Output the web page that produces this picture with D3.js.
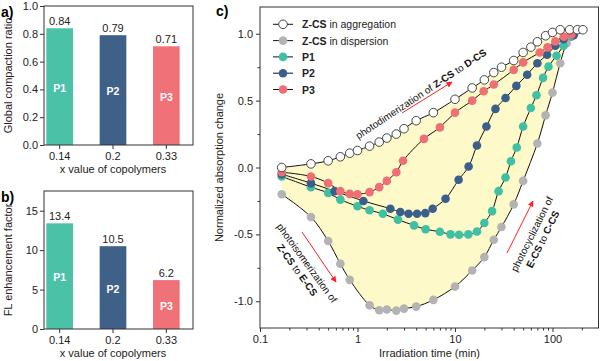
<!DOCTYPE html>
<html>
<head>
<meta charset="utf-8">
<script src="https://cdn.jsdelivr.net/npm/d3@7"></script>
<style>
body{margin:0;background:#fff;}
svg{font-family:"Liberation Sans",Arial,sans-serif;display:block;}
</style>
</head>
<body>
<div id="chart"></div>
<script>
// bar panels (a, b)
const polymers = ["P1","P2","P3"];
const xLabels = ["0.14","0.2","0.33"];
const compactionRatio = [0.84,0.79,0.71];
const flFactor = [13.4,10.5,6.2];
const barColors = ["#4bc2a8","#3f6188","#f07177"];

// panel c, irradiation time (min) and normalized absorption change
const aggTime = [0.167,0.333,0.5,0.667,0.833,1,1.33,1.67,2,2.5,3,4,6,10,15,20,25,30,40,50,60,70,85,100,120,150,180,205];
const aggValue = [0,0.027,0.05,0.08,0.107,0.127,0.16,0.19,0.22,0.25,0.29,0.35,0.41,0.51,0.595,0.655,0.71,0.75,0.8,0.86,0.9,0.94,0.985,1.01,1.03,1.03,1.03,1.03];
const dispTime = [0.167,0.333,0.5,0.667,0.833,1.33,1.67,2,2.5,3,4,6,10,15,20,25,30,40,50,70,85,100,120,140,165];
const dispValue = [-0.2,-0.37,-0.55,-0.72,-0.84,-1.03,-1.067,-1.062,-1.07,-1.055,-1.04,-0.99,-0.89,-0.77,-0.67,-0.54,-0.445,-0.276,-0.1,0.18,0.39,0.56,0.78,0.93,1.0];
const p1Time = [0.167,0.333,0.5,0.667,1,1.33,1.82,2.6,3.8,5,7,9,11,13.7,16.8,20,24,28,33,37.5,43,50,60,68.5,80,91,110,130,155];
const p1Value = [-0.067,-0.147,-0.19,-0.24,-0.29,-0.32,-0.346,-0.39,-0.433,-0.462,-0.48,-0.5,-0.503,-0.5,-0.478,-0.415,-0.326,-0.177,-0.075,0.047,0.15,0.306,0.445,0.54,0.67,0.754,0.836,0.91,0.978];
const p2Time = [0.167,0.333,0.583,1.15,2.17,2.75,3.34,4.08,4.96,5.9,8,10.9,13.8,16.8,21,26,33,42.6,55,70,88,107,130,165];
const p2Value = [-0.05,-0.117,-0.177,-0.25,-0.308,-0.333,-0.346,-0.346,-0.341,-0.308,-0.234,-0.092,0.007,0.164,0.306,0.438,0.52,0.61,0.694,0.78,0.843,0.91,0.96,0.99];
const p3Time = [0.167,0.333,0.5,0.667,0.833,1,1.33,1.67,2,2.5,2.93,4.8,7,10,15,19.7,25,40,50,74,89,107,131,156];
const p3Value = [-0.035,-0.067,-0.117,-0.177,-0.197,-0.2,-0.184,-0.147,-0.1,-0.035,0.05,0.214,0.3,0.41,0.5,0.57,0.62,0.73,0.786,0.86,0.898,0.943,0.978,0.993];

const seriesList = [
    {bold:"Z-CS", rest:" in aggregation", time:aggTime, value:aggValue, fill:"#fff", stroke:"#333"},
    {bold:"Z-CS", rest:" in dispersion", time:dispTime, value:dispValue, fill:"#b3b3b3", stroke:"none"},
    {bold:"P1", rest:"", time:p1Time, value:p1Value, fill:"#3fbfa3", stroke:"none"},
    {bold:"P2", rest:"", time:p2Time, value:p2Value, fill:"#3b5e8a", stroke:"none"},
    {bold:"P3", rest:"", time:p3Time, value:p3Value, fill:"#f06e74", stroke:"none"}
];
const drawOrder = [1,2,3,4,0];

const svg = d3.select("#chart").append("svg")
    .attr("width",600)
    .attr("height",361);

const axisColor = "#333";
const fixed1 = v=>v.toFixed(1);

function styleAxis(g){
    g.select(".domain").remove();
    g.selectAll("line").attr("stroke",axisColor);
    g.selectAll("text").attr("fill","#222").style("font-size","11px");
}

function drawBarPanel(box, values, yMax, yTicks, yFmt, title, letter){
    // bar slots run a little past the left frame, as in the original plot
    const x = d3.scaleBand().domain(polymers).range([33,box.right]).paddingInner(0.5).paddingOuter(0.25);
    const y = d3.scaleLinear().domain([0,yMax]).range([box.bottom,box.top]);
    const g = svg.append("g");

    g.selectAll(".bar")
        .data(values)
        .join("rect")
        .attr("class","bar")
        .attr("x",(d,i)=>x(polymers[i]))
        .attr("width",x.bandwidth())
        .attr("y",d=>y(d))
        .attr("height",d=>y(0)-y(d))
        .attr("fill",(d,i)=>barColors[i]);

    g.selectAll(".valueLabel")
        .data(values)
        .join("text")
        .attr("class","valueLabel")
        .attr("x",(d,i)=>x(polymers[i])+x.bandwidth()/2)
        .attr("y",d=>y(d)-3)
        .attr("text-anchor","middle")
        .style("font-size","11px")
        .attr("fill","#222")
        .text(d=>String(d));

    g.selectAll(".barName")
        .data(values)
        .join("text")
        .attr("class","barName")
        .attr("x",(d,i)=>x(polymers[i])+x.bandwidth()/2)
        .attr("y",d=>(y(d)+y(0))/2+5)
        .attr("text-anchor","middle")
        .style("font-size","10.5px")
        .style("font-weight","bold")
        .attr("fill","#fff")
        .text((d,i)=>polymers[i]);

    g.append("g")
        .attr("transform","translate(0,"+box.bottom+")")
        .call(d3.axisBottom(x).tickSize(4).tickPadding(3).tickFormat((d,i)=>xLabels[i]))
        .call(styleAxis);

    g.append("g")
        .attr("transform","translate("+box.left+",0)")
        .call(d3.axisLeft(y).tickValues(yTicks).tickSize(4).tickPadding(2).tickFormat(yFmt))
        .call(styleAxis);

    g.append("rect")
        .attr("x",box.left).attr("y",box.top)
        .attr("width",box.right-box.left).attr("height",box.bottom-box.top)
        .attr("fill","none").attr("stroke",axisColor).attr("stroke-width",1);

    g.append("text")
        .attr("transform","translate(12,"+((box.top+box.bottom)/2)+") rotate(-90)")
        .attr("text-anchor","middle")
        .style("font-size","11px")
        .attr("fill","#222")
        .text(title);

    g.append("text")
        .attr("x",113)
        .attr("y",box.bottom+28)
        .attr("text-anchor","middle")
        .style("font-size","11px")
        .attr("fill","#222")
        .text("x value of copolymers");

    g.append("text")
        .attr("x",1)
        .attr("y",box.top+11)
        .style("font-size","14px")
        .style("font-weight","bold")
        .text(letter);
}

drawBarPanel({left:44,right:193,top:6,bottom:145}, compactionRatio, 1.0, [0,0.2,0.4,0.6,0.8,1.0], fixed1, "Global compaction ratio", "a)");
drawBarPanel({left:44,right:193,top:191,bottom:329}, flFactor, 17.5, [0,5,10,15], d=>String(d), "FL enhancement factor", "b)");

// panel c
const cBox = {left:260,right:599,top:7,bottom:328};
const xc = d3.scaleLog().domain([0.1,300]).range([cBox.left,cBox.right]);
const yc = d3.scaleLinear().domain([-1.2,1.2]).range([cBox.bottom,cBox.top]);
const gc = svg.append("g");

const defs = svg.append("defs");
defs.append("marker")
    .attr("id","redHead")
    .attr("viewBox","0 0 10 10")
    .attr("refX",9).attr("refY",5)
    .attr("markerWidth",7).attr("markerHeight",6)
    .attr("markerUnits","userSpaceOnUse")
    .attr("orient","auto")
    .append("path")
    .attr("d","M0,0L10,5L0,10Z")
    .attr("fill","#ff2020");

const pts = s=>s.time.map((t,i)=>[xc(t),yc(s.value[i])]);
const curve = d3.line().curve(d3.curveCatmullRom.alpha(0.5));

// yellow region between aggregation and dispersion curves
const topPath = curve(pts(seriesList[0]));
const botPath = curve(pts(seriesList[1]).reverse());
gc.append("path")
    .attr("d",topPath+"L"+botPath.slice(1)+"Z")
    .attr("fill","#fdf9c8");

seriesList.forEach(s=>{
    gc.append("path")
        .attr("d",curve(pts(s)))
        .attr("fill","none")
        .attr("stroke","#111")
        .attr("stroke-width",1);
});

drawOrder.forEach(k=>{
    const s = seriesList[k];
    gc.append("g").selectAll("circle")
        .data(pts(s))
        .join("circle")
        .attr("cx",d=>d[0])
        .attr("cy",d=>d[1])
        .attr("r",4.3)
        .attr("fill",s.fill)
        .attr("stroke",s.stroke)
        .attr("stroke-width",0.9);
});

// axes
const majorX = [0.1,1,10,100];
const minorX = xc.ticks().filter(t=>!majorX.includes(t) && t<300);
gc.append("g")
    .attr("transform","translate(0,"+cBox.bottom+")")
    .call(d3.axisBottom(xc).tickValues(majorX).tickSize(4).tickPadding(3).tickFormat(d=>String(d)))
    .call(styleAxis);
gc.append("g")
    .attr("transform","translate(0,"+cBox.bottom+")")
    .call(d3.axisBottom(xc).tickValues(minorX).tickSize(2.5).tickFormat(""))
    .call(styleAxis);
gc.append("g")
    .attr("transform","translate("+cBox.left+",0)")
    .call(d3.axisLeft(yc).tickValues([-1,-0.5,0,0.5,1]).tickSize(4).tickPadding(3).tickFormat(fixed1))
    .call(styleAxis);
gc.append("g")
    .attr("transform","translate("+cBox.left+",0)")
    .call(d3.axisLeft(yc).tickValues([-0.75,-0.25,0.25,0.75]).tickSize(2.5).tickFormat(""))
    .call(styleAxis);
gc.append("rect")
    .attr("x",cBox.left).attr("y",cBox.top)
    .attr("width",cBox.right-cBox.left-0.5).attr("height",cBox.bottom-cBox.top)
    .attr("fill","none").attr("stroke",axisColor).attr("stroke-width",1);

gc.append("text")
    .attr("transform","translate(223,"+((cBox.top+cBox.bottom)/2)+") rotate(-90)")
    .attr("text-anchor","middle")
    .style("font-size","11px")
    .attr("fill","#222")
    .text("Normalized absorption change");
gc.append("text")
    .attr("x",(cBox.left+cBox.right)/2)
    .attr("y",357)
    .attr("text-anchor","middle")
    .style("font-size","11px")
    .attr("fill","#222")
    .text("Irradiation time (min)");
gc.append("text")
    .attr("x",216).attr("y",16)
    .style("font-size","14px")
    .style("font-weight","bold")
    .text("c)");

// legend
const legend = gc.append("g").attr("transform","translate(273,24.3)");
seriesList.forEach((s,i)=>{
    const row = legend.append("g").attr("transform","translate(0,"+(i*16.3)+")");
    row.append("line").attr("x1",0).attr("x2",20).attr("stroke","#111").attr("stroke-width",1);
    row.append("circle").attr("cx",10).attr("r",4.3).attr("fill",s.fill).attr("stroke",s.stroke).attr("stroke-width",0.9);
    const t = row.append("text").attr("x",29).attr("y",4).style("font-size","10.5px").attr("fill","#222");
    t.append("tspan").style("font-weight","bold").text(s.bold);
    t.append("tspan").text(s.rest);
});

// annotations
function richLine(g, y, parts){
    const t = g.append("text").attr("y",y).attr("text-anchor","middle").style("font-size","10px").attr("fill","#111");
    parts.forEach(p=>t.append("tspan").style("font-weight",p[1]?"bold":"normal").text(p[0]));
}
const ann1 = gc.append("g").attr("transform","translate(421,94) rotate(-33.5)");
richLine(ann1, 3.5, [["photodimerization of ",0],["Z-CS",1],[" to ",0],["D-CS",1]]);
const ann2 = gc.append("g").attr("transform","translate(307,263) rotate(54)");
richLine(ann2, 3.5, [["photoisomerization of",0]]);
richLine(ann2, 15.5, [["Z-CS",1],[" to ",0],["E-CS",1]]);
const ann3 = gc.append("g").attr("transform","translate(532,234) rotate(-63.5)");
richLine(ann3, 3.5, [["photocyclization of",0]]);
richLine(ann3, 15.5, [["E-CS",1],[" to ",0],["C-CS",1]]);

const arrows = [[402,113,452,82],[302,232,336,282],[507,253,533,201]];
gc.selectAll(".arrow")
    .data(arrows)
    .join("line")
    .attr("class","arrow")
    .attr("x1",d=>d[0]).attr("y1",d=>d[1])
    .attr("x2",d=>d[2]).attr("y2",d=>d[3])
    .attr("stroke","#ff2020")
    .attr("stroke-width",1)
    .attr("marker-end","url(#redHead)");
</script>
</body>
</html>
